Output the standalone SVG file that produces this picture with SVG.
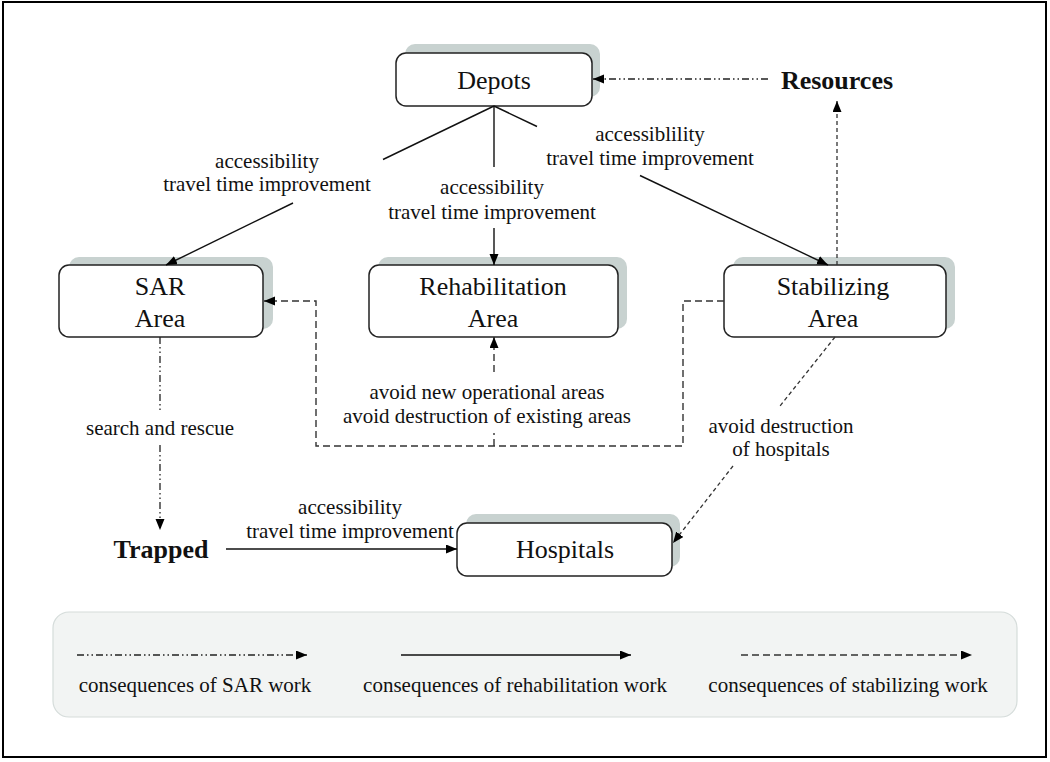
<svg xmlns="http://www.w3.org/2000/svg" width="1050" height="762" viewBox="0 0 1050 762">
<defs>
<style>
.shadow{fill:#c8d2d0}
.box{fill:#ffffff;stroke:#222222;stroke-width:1.5}
.node{font-family:"Liberation Serif","Times New Roman",serif;font-size:26px;fill:#111;text-anchor:middle}
.bold{font-family:"Liberation Serif","Times New Roman",serif;font-size:26px;font-weight:bold;fill:#111;text-anchor:middle}
.lbl{font-family:"Liberation Serif","Times New Roman",serif;font-size:21px;fill:#111;text-anchor:middle}
.solid{stroke:#111;stroke-width:1.4;fill:none}
.sar{stroke:#222;stroke-width:1.3;fill:none;stroke-dasharray:7 3 1.5 3 1.5 3}
.stab{stroke:#333;stroke-width:1.4;fill:none;stroke-dasharray:7 4}
.stab2{stroke:#333;stroke-width:1.3;fill:none;stroke-dasharray:4 3}
</style>
<marker id="ah" markerUnits="userSpaceOnUse" markerWidth="12" markerHeight="10" refX="11" refY="4.5" orient="auto">
<path d="M0,0 L11,4.5 L0,9 z" fill="#000"/>
</marker>
</defs>
<rect x="3" y="2" width="1043" height="755" fill="#fff" stroke="#000" stroke-width="2"/>

<g id="legend">
<rect x="53" y="612" width="964" height="105" rx="16" fill="#f2f4f3" stroke="#d5dcda" stroke-width="1.2"/>
<line class="sar" x1="77" y1="655" x2="307" y2="655" marker-end="url(#ah)"/>
<line class="solid" x1="401" y1="655" x2="631" y2="655" marker-end="url(#ah)"/>
<line class="stab" x1="741" y1="655" x2="972" y2="655" marker-end="url(#ah)"/>
<text class="lbl" x="195" y="692">consequences of SAR work</text>
<text class="lbl" x="515" y="692">consequences of rehabilitation work</text>
<text class="lbl" x="848" y="692">consequences of stabilizing work</text>
</g>

<g id="depots">
<rect class="shadow" x="405" y="44" width="195" height="53" rx="10"/>
<rect class="box" x="396" y="53" width="196" height="53" rx="10"/>
<text class="node" x="494" y="89">Depots</text>
</g>

<g id="resources">
<text class="bold" x="837" y="89">Resources</text>
</g>

<g id="sar-area">
<rect class="shadow" x="69" y="257" width="204" height="72" rx="10"/>
<rect class="box" x="59" y="265" width="204" height="72" rx="10"/>
<text class="node" x="160" y="295">SAR</text>
<text class="node" x="160" y="327">Area</text>
</g>

<g id="rehabilitation-area">
<rect class="shadow" x="378" y="257" width="249" height="72" rx="10"/>
<rect class="box" x="369" y="265" width="249" height="72" rx="10"/>
<text class="node" x="493" y="295">Rehabilitation</text>
<text class="node" x="493" y="327">Area</text>
</g>

<g id="stabilizing-area">
<rect class="shadow" x="733" y="257" width="222" height="72" rx="10"/>
<rect class="box" x="724" y="265" width="222" height="72" rx="10"/>
<text class="node" x="833" y="295">Stabilizing</text>
<text class="node" x="833" y="327">Area</text>
</g>

<g id="trapped">
<text class="bold" x="161" y="558">Trapped</text>
</g>

<g id="hospitals">
<rect class="shadow" x="466" y="514" width="214" height="53" rx="10"/>
<rect class="box" x="457" y="523" width="215" height="53" rx="10"/>
<text class="node" x="565" y="558">Hospitals</text>
</g>

<g id="connectors">
<line class="sar" x1="768" y1="79" x2="593" y2="79" marker-end="url(#ah)"/>
<line class="stab2" x1="837" y1="265" x2="837" y2="101" marker-end="url(#ah)"/>
<line class="solid" x1="494" y1="106" x2="383" y2="159.5"/>
<line class="solid" x1="293" y1="203" x2="166" y2="265" marker-end="url(#ah)"/>
<text class="lbl" x="267" y="168">accessibility</text>
<text class="lbl" x="267" y="191">travel time improvement</text>
<line class="solid" x1="494" y1="106" x2="494" y2="167"/>
<line class="solid" x1="494" y1="228" x2="494" y2="265" marker-end="url(#ah)"/>
<text class="lbl" x="492" y="194">accessibility</text>
<text class="lbl" x="492" y="219">travel time improvement</text>
<line class="solid" x1="494" y1="106" x2="537" y2="126.5"/>
<line class="solid" x1="640" y1="175.5" x2="828" y2="265" marker-end="url(#ah)"/>
<text class="lbl" x="650" y="141">accessiblility</text>
<text class="lbl" x="650" y="165">travel time improvement</text>
<line class="sar" x1="160" y1="337" x2="160" y2="412"/>
<line class="sar" x1="160" y1="445" x2="160" y2="530" marker-end="url(#ah)"/>
<text class="lbl" x="160" y="435">search and rescue</text>
<polyline class="stab" points="724,301 683,301 683,446 316,446 316,301 264,301" marker-end="url(#ah)"/>
<line class="stab" x1="494" y1="446" x2="494" y2="433"/>
<line class="stab" x1="494" y1="372" x2="494" y2="337" marker-end="url(#ah)"/>
<text class="lbl" x="487" y="399">avoid new operational areas</text>
<text class="lbl" x="487" y="423">avoid destruction of existing areas</text>
<line class="stab2" x1="835" y1="337" x2="780" y2="406"/>
<line class="stab2" x1="733" y1="466" x2="673" y2="543" marker-end="url(#ah)"/>
<text class="lbl" x="781" y="433">avoid destruction</text>
<text class="lbl" x="781" y="456">of hospitals</text>
<line class="solid" x1="226" y1="549" x2="457" y2="549" marker-end="url(#ah)"/>
<text class="lbl" x="350" y="514">accessibility</text>
<text class="lbl" x="350" y="538">travel time improvement</text>
</g>
</svg>
